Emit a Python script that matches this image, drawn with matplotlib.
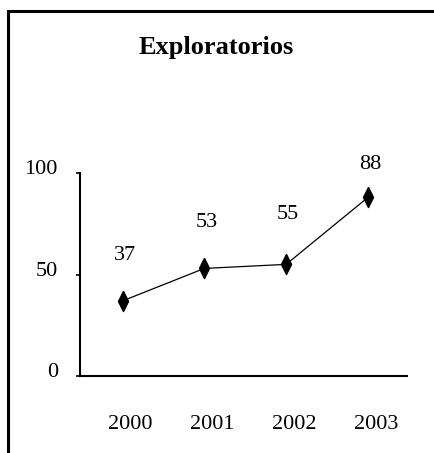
import matplotlib
matplotlib.use("Agg")
from matplotlib import pyplot as plt
from matplotlib.patches import Rectangle
from matplotlib.transforms import ScaledTranslation

years = ["2000", "2001", "2002", "2003"]
values = [37, 53, 55, 88]
yticks = [0, 50, 100]
# extra lift of each value label above its point (points)
label_lift = [26, 26, 29, 17]

plt.rcParams["font.family"] = ["Liberation Serif", "DejaVu Serif"]

fig = plt.figure(figsize=(4.35, 4.53), dpi=100)
ax = fig.add_axes([0.184, 0.170, 0.752, 0.448])

# thin diamond marker, twice as tall as wide
diamond = [(0, 1), (0.5, 0), (0, -1), (-0.5, 0), (0, 1)]
x = list(range(len(years)))
ax.plot(x, values, color="black", lw=0.9, marker=diamond, ms=14.5,
        mfc="black", mec="black")

for xi, v, lift in zip(x, values, label_lift):
    ax.annotate(str(v), (xi, v), xytext=(1.5, lift), textcoords="offset points",
                ha="center", va="bottom", fontsize=16)

ax.set_xlim(-0.52, 3.48)
ax.set_ylim(0, 100)
ax.set_xticks(x)
ax.set_xticklabels(years, fontsize=16)
ax.set_yticks(yticks)
ax.set_yticklabels([str(t) for t in yticks], fontsize=16)
ax.tick_params(axis="x", length=0, pad=28)
ax.tick_params(axis="y", length=3, width=1.2, pad=13)

for lab in ax.get_xticklabels():
    lab.set_transform(lab.get_transform() + ScaledTranslation(8 / 100, 0, fig.dpi_scale_trans))
for lab in ax.get_yticklabels():
    lab.set_transform(lab.get_transform() + ScaledTranslation(0, 6 / 100, fig.dpi_scale_trans))

for side in ["top", "right"]:
    ax.spines[side].set_visible(False)
for side in ["left", "bottom"]:
    ax.spines[side].set_linewidth(1.5)

fig.text(0.497, 0.896, "Exploratorios", ha="center", va="center",
         fontsize=19, fontweight="bold")

# outer chart frame, cut off at the right and bottom
fig.patches.append(Rectangle((8.5 / 435, -0.1), 1.2, 1.1 - 10.5 / 453,
                             transform=fig.transFigure, fill=False,
                             lw=2.2, ec="black"))

fig.savefig("out.png", dpi=100)
